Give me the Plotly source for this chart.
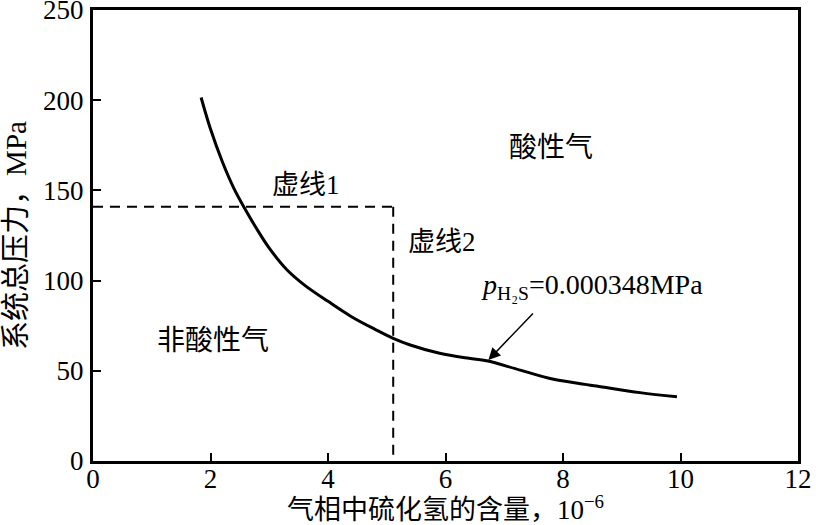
import plotly.graph_objects as go

# curve data
curve_x = [1.84, 2.0, 2.2, 2.4, 2.6, 2.8, 3.0, 3.3, 3.6, 4.0, 4.4, 4.8, 5.11, 5.4, 5.9, 6.4, 6.7, 7.27, 7.84, 8.57, 9.31, 9.94]
curve_y = [201.5, 184, 166, 151, 139, 128, 118, 106, 97.5, 88.5, 80, 73, 68, 64.3, 59.7, 56.9, 55.6, 50.4, 45.3, 41.6, 37.9, 35.6]

# dashed boundary lines
dash1_x = [0, 5.11]
dash1_y = [141, 141]
dash2_x = [5.11, 5.11]
dash2_y = [141, 0]

x_ticks = [0, 2, 4, 6, 8, 10, 12]
y_ticks = [0, 50, 100, 150, 200, 250]

FONT = "Liberation Serif, Noto Sans CJK SC, serif"

fig = go.Figure()
fig.add_trace(go.Scatter(x=curve_x, y=curve_y, mode="lines",
                         line=dict(color="black", width=3, shape="spline", smoothing=1.0), showlegend=False))
fig.add_trace(go.Scatter(x=dash1_x, y=dash1_y, mode="lines", line=dict(color="black", width=2, dash="10px,7px"), showlegend=False))
fig.add_trace(go.Scatter(x=dash2_x, y=dash2_y, mode="lines", line=dict(color="black", width=2, dash="10px,7px"), showlegend=False))

labels = [
    ("虚线1", 3.63, 153, 27),
    ("虚线2", 5.94, 121.4, 27),
    ("酸性气", 7.80, 174, 28),
    ("非酸性气", 2.05, 67, 28),
]
for t, x, y, s in labels:
    fig.add_annotation(x=x, y=y, text=t, showarrow=False, font=dict(family=FONT, size=s, color="black"))

fig.add_annotation(x=6.57, y=96.5, text="<i>p</i><sub>H₂S</sub>=0.000348MPa", showarrow=False,
                   xanchor="left", font=dict(family=FONT, size=28, color="black"))
fig.add_annotation(x=6.73, y=56, ax=46, ay=-48, text="", showarrow=True, arrowhead=2,
                   arrowsize=1.6, arrowwidth=1.5, arrowcolor="black", standoff=0)

fig.update_xaxes(range=[0, 12], tickvals=x_ticks, ticks="inside", ticklen=8, tickwidth=2, tickcolor="black",
                 showline=True, linewidth=3, linecolor="black", mirror=True, showgrid=False, zeroline=False,
                 automargin=False, ticklabeloverflow="allow", ticklabelstandoff=-8,
                 tickfont=dict(family=FONT, size=27, color="black"),
                 title=dict(text="气相中硫化氢的含量，10<sup>−6</sup>", font=dict(family=FONT, size=27, color="black"), standoff=0))
fig.update_yaxes(range=[0, 250], tickvals=y_ticks, ticks="inside", ticklen=8, tickwidth=2, tickcolor="black",
                 showline=True, linewidth=3, linecolor="black", mirror=True, showgrid=False, zeroline=False,
                 automargin=False, ticklabeloverflow="allow", ticklabelstandoff=1,
                 tickfont=dict(family=FONT, size=27, color="black"),
                 title=dict(text="系统总压力，MPa", font=dict(family=FONT, size=29, color="black"), standoff=16))

fig.update_layout(width=816, height=525, margin=dict(l=93, r=18, t=10, b=64),
                  plot_bgcolor="white", paper_bgcolor="white")
fig.write_html("out.html", config={"displayModeBar": False},
               post_script="document.body.style.margin='0px';")
